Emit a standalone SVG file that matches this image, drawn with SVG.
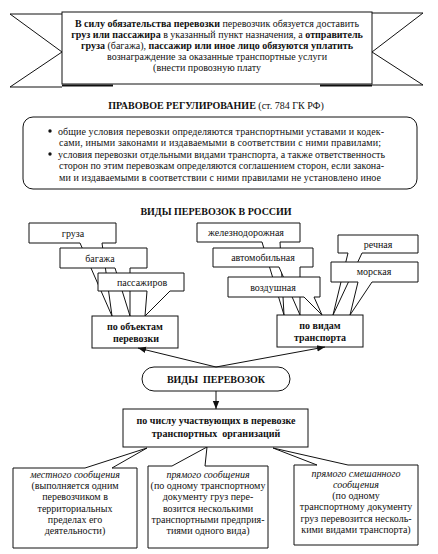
<svg xmlns="http://www.w3.org/2000/svg" width="438" height="554" viewBox="0 0 438 554">
<defs>
<style>
.t{font-family:"Liberation Serif","Times New Roman",serif;font-size:10px;text-anchor:middle;fill:#111}
.b{font-weight:bold}
.i{font-style:italic}
.s{text-anchor:start}
.box{fill:#fff;stroke:#111;stroke-width:1}
.ln{fill:none;stroke:#111;stroke-width:1}
</style>
<marker id="ah" viewBox="0 0 10 10" refX="10" refY="5" markerWidth="8" markerHeight="8" markerUnits="userSpaceOnUse" orient="auto">
<path d="M0,1 L10,5 L0,9 Z" fill="#111"/>
</marker>
</defs>
<rect width="438" height="554" fill="#fff"/>

<g id="banner">
<polyline class="ln" points="62,14 10,14 62,52 10,87 62,87"/>
<polyline class="ln" points="372,13 423,13 372,52 423,85 372,85"/>
<path d="M62,85.5 H113 M320,85.5 H372" stroke="#111" stroke-width="2.2"/>
<rect class="box" x="62" y="12" width="310" height="72"/>
<text class="t" x="217" y="27"><tspan class="b">В силу обязательства перевозки</tspan> перевозчик обязуется доставить</text>
<text class="t" x="217" y="38"><tspan class="b">груз или пассажира</tspan> в указанный пункт назначения, а <tspan class="b">отправитель</tspan></text>
<text class="t" x="217" y="49"><tspan class="b">груза</tspan> (багажа), <tspan class="b">пассажир или иное лицо обязуются уплатить</tspan></text>
<text class="t" x="217" y="60">вознаграждение за оказанные транспортные услуги</text>
<text class="t" x="207" y="71">(внести провозную плату</text>
</g>

<g id="regulation-title">
<text class="t" x="216" y="108.5"><tspan class="b">ПРАВОВОЕ РЕГУЛИРОВАНИЕ</tspan> (ст. 784 ГК РФ)</text>
</g>

<g id="regulation">
<rect class="box" x="23" y="117" width="394" height="72" rx="10"/>
<circle cx="50" cy="131" r="1.7" fill="#111"/>
<circle cx="50" cy="154" r="1.7" fill="#111"/>
<text class="t s" x="58" y="134.5" textLength="326" lengthAdjust="spacing">общие условия перевозки определяются транспортными уставами и кодек-</text>
<text class="t s" x="59" y="146" textLength="322" lengthAdjust="spacing">сами, иными законами и издаваемыми в соответствии с ними правилами;</text>
<text class="t s" x="58" y="157.5" textLength="327" lengthAdjust="spacing">условия перевозки отдельными видами транспорта, а также ответственность</text>
<text class="t s" x="59" y="169" textLength="325" lengthAdjust="spacing">сторон по этим перевозкам определяются соглашением сторон, если закона-</text>
<text class="t s" x="59" y="180.5" textLength="322" lengthAdjust="spacing">ми и издаваемыми в соответствии с ними правилами не установлено иное</text>
</g>

<g id="kinds-title">
<text class="t b" x="216" y="214.5">ВИДЫ ПЕРЕВОЗОК В РОССИИ</text>
</g>

<g id="gruza">
<path class="box" d="M29,223 H116 V243 H102 L112,316 L80,243 H29 Z"/>
<text class="t" x="73" y="236.5">груза</text>
</g>
<g id="bagazha">
<path class="box" d="M60,248 H147 V268 H130 L130,316 L115,268 H60 Z"/>
<text class="t" x="100" y="261.5">багажа</text>
</g>
<g id="passazhirov">
<path class="box" d="M98,273 H184 V291 H170 L145,316 L147,291 H98 Z"/>
<text class="t" x="142" y="285.5">пассажиров</text>
</g>
<g id="po-obektam">
<rect class="box" x="92" y="316" width="86" height="32"/>
<text class="t b" x="135" y="329.5">по объектам</text>
<text class="t b" x="136" y="341.5">перевозки</text>
</g>

<g id="zheleznodorozhnaya">
<path class="box" d="M197,223 H300 V242 H280 L284,315 L262,242 H197 Z"/>
<text class="t" x="246" y="236">железнодорожная</text>
</g>
<g id="avtomobilnaya">
<path class="box" d="M213,248 H313 V267 H300 L300,315 L279,267 H213 Z"/>
<text class="t" x="263" y="261">автомобильная</text>
</g>
<g id="vozdushnaya">
<path class="box" d="M228,277 H320 V297 H314 L322,315 L304,297 H228 Z"/>
<text class="t" x="273" y="290.5">воздушная</text>
</g>
<g id="rechnaya">
<path class="box" d="M338,235 H418 V253 H362 L333,315 L348,253 H338 Z"/>
<text class="t" x="378" y="247.5">речная</text>
</g>
<g id="morskaya">
<path class="box" d="M331,262 H418 V282 H372 L350,315 L358,282 H331 Z"/>
<text class="t" x="374" y="275">морская</text>
</g>
<g id="po-vidam">
<rect class="box" x="277" y="315" width="86" height="32"/>
<text class="t b" x="320" y="329">по видам</text>
<text class="t b" x="320" y="341">транспорта</text>
</g>

<g id="vidy-perevozok">
<rect class="box" x="142" y="367" width="148" height="24" rx="12"/>
<text class="t b" x="216" y="383" font-size="10.5">ВИДЫ&#160; ПЕРЕВОЗОК</text>
</g>

<g id="mestnogo">
<path class="box" d="M13,468 H85 L147,448 L112,468 H137 V548 H13 Z"/>
<text class="t i" x="75" y="478">местного сообщения</text>
<text class="t" x="75" y="489.2">(выполняется одним</text>
<text class="t" x="75" y="500.4">перевозчиком в</text>
<text class="t" x="75" y="511.6">территориальных</text>
<text class="t" x="75" y="522.8">пределах его</text>
<text class="t" x="75" y="534">деятельности)</text>
</g>
<g id="pryamogo">
<path class="box" d="M148,466 H172 L207,447 L205,466 H268 V548 H148 Z"/>
<text class="t i" x="208" y="478">прямого сообщения</text>
<text class="t" x="208" y="489.2">(по одному транспортному</text>
<text class="t" x="208" y="500.4">документу груз пере-</text>
<text class="t" x="208" y="511.6">возится несколькими</text>
<text class="t" x="208" y="522.8">транспортными предприя-</text>
<text class="t" x="208" y="534">тиями одного вида)</text>
</g>
<g id="smeshannogo">
<path class="box" d="M294,465 H317 L273,448 L348,465 H418 V545 H294 Z"/>
<text class="t i" x="356" y="477">прямого смешанного</text>
<text class="t i" x="356" y="488">сообщения</text>
<text class="t" x="356" y="499.2">(по одному</text>
<text class="t" x="356" y="510.4">транспортному документу</text>
<text class="t" x="356" y="521.6">груз перевозится несколь-</text>
<text class="t" x="356" y="532.8">кими видами транспорта)</text>
</g>

<g id="po-chislu">
<rect class="box" x="123" y="409" width="185" height="38"/>
<text class="t b" x="216" y="423.5">по числу участвующих в перевозке</text>
<text class="t b" x="216" y="436.5">транспортных&#160; организаций</text>
</g>

<g id="connectors">
<line class="ln" x1="216" y1="367" x2="138" y2="348" marker-end="url(#ah)"/>
<line class="ln" x1="216" y1="367" x2="325" y2="347" marker-end="url(#ah)"/>
<line class="ln" x1="216" y1="391" x2="216" y2="409" marker-end="url(#ah)"/>
</g>
</svg>
